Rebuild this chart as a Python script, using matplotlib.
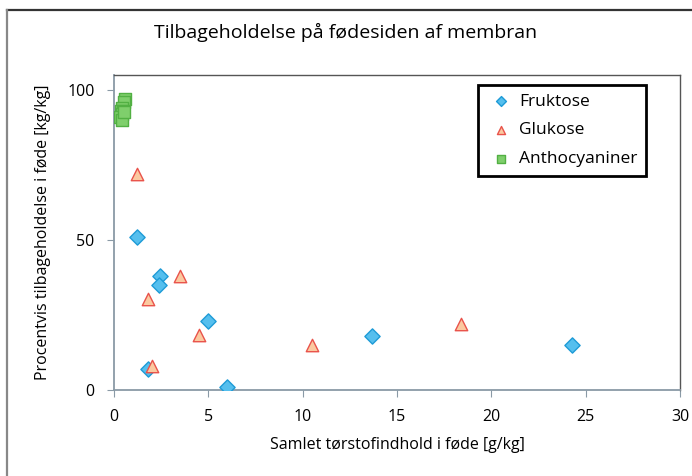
import matplotlib
matplotlib.use('Agg')
import matplotlib.pyplot as plt
from matplotlib.lines import Line2D

plt.rcParams['font.family'] = ['Open Sans', 'DejaVu Sans']

# data
fruktose_x = [1.2, 2.45, 2.4, 5.0, 1.8, 6.0, 13.7, 24.3]
fruktose_y = [51, 38, 35, 23, 7, 1, 18, 15]

glukose_x = [1.2, 3.5, 1.8, 4.5, 2.0, 10.5, 18.4]
glukose_y = [72, 38, 30.5, 18.5, 8, 15, 22]

antho_x = [0.6, 0.55, 0.45, 0.35, 0.5, 0.4, 0.3, 0.45, 0.55]
antho_y = [97, 96, 94, 93, 93, 92, 91, 90, 92.5]

x_ticks = [0, 5, 10, 15, 20, 25, 30]
y_ticks = [0, 50, 100]

fig = plt.figure(figsize=(6.92, 4.76), dpi=100)
fig.patch.set_facecolor('white')

# outer frame of the scanned chart
fig.add_artist(Line2D([7/692, 1], [1 - 10/476, 1 - 10/476], color='#333333', lw=1.6))
fig.add_artist(Line2D([7/692, 7/692], [0, 1 - 10/476], color='#888888', lw=1.6))

ax = fig.add_axes([114/692, 1 - 390/476, (680 - 114)/692, (390 - 75)/476])

ax.scatter(fruktose_x, fruktose_y, marker='D', s=60, facecolor='#55bfee',
           edgecolor='#1e9bd7', linewidth=1.0, zorder=3, label='Fruktose')
ax.scatter(glukose_x, glukose_y, marker='^', s=80, facecolor='#fbc9a0',
           edgecolor='#e9534b', linewidth=1.0, zorder=3, label='Glukose')
ax.scatter(antho_x, antho_y, marker='s', s=70, facecolor='#7fcf6c',
           edgecolor='#52b043', linewidth=1.0, zorder=3, label='Anthocyaniner')

ax.set_xlim(0, 30)
ax.set_ylim(0, 105)
ax.set_xticks(x_ticks)
ax.set_yticks(y_ticks)
ax.tick_params(direction='out', length=5, color='#8a9aa6', labelsize=11.5, pad=9)

for side in ['left', 'bottom']:
    ax.spines[side].set_color('#8a9aa6')
    ax.spines[side].set_linewidth(1.3)
for side in ['top', 'right']:
    ax.spines[side].set_color('#555555')
    ax.spines[side].set_linewidth(1.0)

ax.set_xlabel('Samlet tørstofindhold i føde [g/kg]', fontsize=11.5, labelpad=8)
ax.set_ylabel('Procentvis tilbageholdelse i føde [kg/kg]', fontsize=11.5, labelpad=12)
fig.text(0.5, 1 - 32/476, 'Tilbageholdelse på fødesiden af membran',
         ha='center', va='center', fontsize=14)

leg = ax.legend(loc='upper right', bbox_to_anchor=(646/692, 1 - 85/476),
                bbox_transform=fig.transFigure, fontsize=12.5, frameon=True,
                fancybox=False, framealpha=1, borderpad=0.5, labelspacing=0.72,
                handletextpad=0.25, handlelength=1.6, borderaxespad=0,
                markerscale=0.65)
leg.get_frame().set_edgecolor('black')
leg.get_frame().set_linewidth(2.0)

fig.savefig('out.png', dpi=100)
